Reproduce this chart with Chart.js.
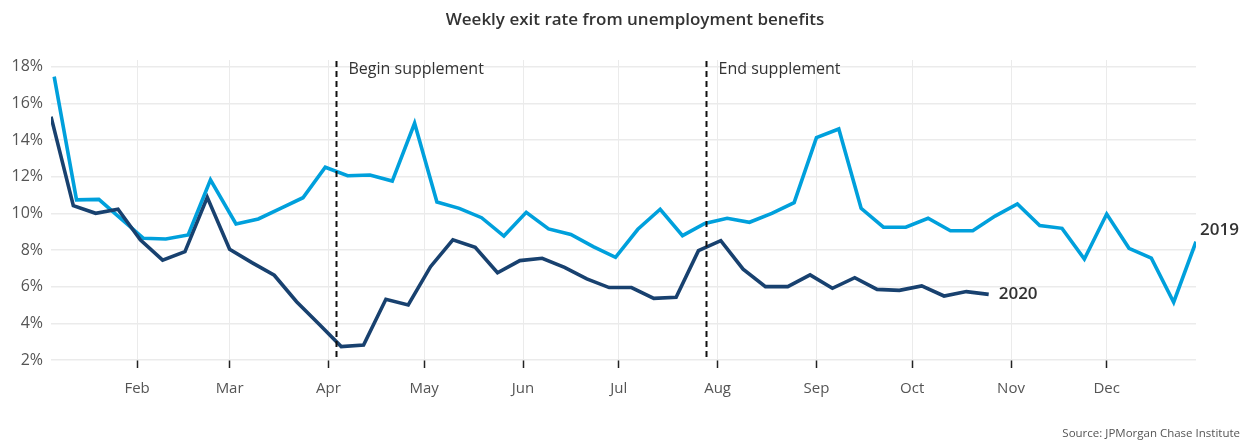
<!DOCTYPE html>
<html>
<head>
<meta charset="utf-8">
<title>Weekly exit rate from unemployment benefits</title>
<script src="https://cdn.jsdelivr.net/npm/chart.js@4.4.1/dist/chart.umd.min.js"></script>
<style>
  html, body { margin: 0; padding: 0; background: #ffffff; }
  #wrap { position: relative; width: 1247px; height: 443px; }
</style>
</head>
<body>
<div id="wrap"><canvas id="chart" width="1247" height="443"></canvas></div>
<script>
// ---- data -------------------------------------------------------------
const chartTitle = 'Weekly exit rate from unemployment benefits';
const sourceNote = 'Source: JPMorgan Chase Institute';

const monthLabels = ['Feb', 'Mar', 'Apr', 'May', 'Jun', 'Jul', 'Aug', 'Sep', 'Oct', 'Nov', 'Dec'];
const yTickValues = [2, 4, 6, 8, 10, 12, 14, 16, 18];

const seriesNames = ['2020', '2019'];
const firstWeek2020 = '2020-01-05';   // weeks end on Sundays
const firstWeek2019 = '2019-01-06';

// weekly exit rate, percent
const rate2020 = [
  15.27, 10.42, 10.00, 10.22, 8.55, 7.45, 7.91, 10.87, 8.04, 7.31,
  6.62, 5.18, 3.96, 2.73, 2.82, 5.31, 5.00, 7.09, 8.55, 8.15,
  6.76, 7.42, 7.55, 7.05, 6.42, 5.95, 5.95, 5.36, 5.42, 7.96,
  8.51, 6.95, 6.00, 6.00, 6.64, 5.91, 6.49, 5.85, 5.80, 6.04,
  5.49, 5.73, 5.58
];
const rate2019 = [
  17.45, 10.73, 10.76, 9.70, 8.64, 8.60, 8.82, 11.82, 9.42, 9.69,
  10.27, 10.85, 12.51, 12.05, 12.09, 11.76, 14.91, 10.62, 10.27, 9.76,
  8.76, 10.05, 9.15, 8.85, 8.18, 7.60, 9.13, 10.22, 8.78, 9.45,
  9.73, 9.51, 10.00, 10.58, 14.13, 14.60, 10.27, 9.24, 9.24, 9.73,
  9.05, 9.05, 9.85, 10.51, 9.33, 9.18, 7.51, 9.96, 8.09, 7.55,
  5.15, 8.45
];

const policyEvents = [
  { label: 'Begin supplement', date: '2020-04-03T12:00:00Z' },
  { label: 'End supplement',   date: '2020-07-28T12:00:00Z' }
];

// ---- calendar helpers (x axis = day of the 2020 calendar year) ---------
const DAY = 864e5;
const JAN1 = Date.UTC(2020, 0, 1);
function calendarDay(d) {
  // place any date on the 2020 calendar by its month and day
  return (Date.UTC(2020, d.getUTCMonth(), d.getUTCDate(), d.getUTCHours()) - JAN1) / DAY;
}
function weeklyPoints(start, values) {
  const t0 = Date.parse(start + 'T00:00:00Z');
  return values.map((v, i) => ({ x: calendarDay(new Date(t0 + i * 7 * DAY)), y: v }));
}
const monthStarts = monthLabels.map((_, i) => (Date.UTC(2020, i + 1, 1) - JAN1) / DAY);

const points2020 = weeklyPoints(firstWeek2020, rate2020);
const points2019 = weeklyPoints(firstWeek2019, rate2019);
const xMin = points2020[0].x;
const xMax = points2019[points2019.length - 1].x;

// ---- styling ----------------------------------------------------------
const FONT = '"Open Sans", "Noto Sans", "DejaVu Sans", sans-serif';
const DARK = '#18416f';
const LIGHT = '#00a0dc';
const GRID = '#ebebeb';
const TEXT = '#333333';
const AXIS_TEXT = '#555555';

// text layer: title, source, policy markers and end-of-line labels
const overlay = {
  id: 'overlay',
  afterDatasetsDraw(chart) {
    const { ctx, chartArea, scales } = chart;
    ctx.save();

    // policy event markers
    policyEvents.forEach(ev => {
      const x = Math.round(scales.x.getPixelForValue(calendarDay(new Date(ev.date)))) + 0.5;
      ctx.beginPath();
      ctx.setLineDash([6, 4]);
      ctx.lineWidth = 2;
      ctx.strokeStyle = '#111111';
      ctx.moveTo(x, chartArea.top + 1);
      ctx.lineTo(x, chartArea.bottom - 2);
      ctx.stroke();
      ctx.setLineDash([]);
      ctx.fillStyle = TEXT;
      ctx.font = '16px ' + FONT;
      ctx.textAlign = 'left';
      ctx.textBaseline = 'middle';
      ctx.fillText(ev.label, x + 12, chartArea.top + 9);
    });

    // end-of-line series labels
    ctx.font = '600 17px ' + FONT;
    ctx.fillStyle = TEXT;
    ctx.textBaseline = 'middle';
    ctx.textAlign = 'left';
    const m0 = chart.getDatasetMeta(0).data;
    const p0 = m0[m0.length - 1];
    ctx.fillText(seriesNames[0], p0.x + 10, p0.y);
    const m1 = chart.getDatasetMeta(1).data;
    const p1 = m1[m1.length - 1];
    ctx.fillText(seriesNames[1], p1.x + 4, p1.y - 12);

    // title
    ctx.font = '600 17px ' + FONT;
    ctx.textAlign = 'center';
    ctx.fillStyle = TEXT;
    ctx.fillText(chartTitle, 635, 20);

    // source note
    ctx.font = '11.5px ' + FONT;
    ctx.textAlign = 'right';
    ctx.fillStyle = AXIS_TEXT;
    ctx.fillText(sourceNote, 1240, 434);

    ctx.restore();
  }
};

new Chart(document.getElementById('chart'), {
  type: 'line',
  data: {
    datasets: [
      {
        label: seriesNames[0],
        data: points2020,
        borderColor: DARK,
        borderWidth: 3.6,
        pointRadius: 0,
        tension: 0,
        order: 0
      },
      {
        label: seriesNames[1],
        data: points2019,
        borderColor: LIGHT,
        borderWidth: 3.6,
        pointRadius: 0,
        tension: 0,
        order: 1
      }
    ]
  },
  options: {
    responsive: false,
    animation: false,
    devicePixelRatio: 1,
    layout: { padding: { top: 60, right: 51, bottom: 0, left: 0 } },
    plugins: {
      legend: { display: false },
      title: { display: false },
      tooltip: { enabled: false }
    },
    scales: {
      x: {
        type: 'linear',
        min: xMin,
        max: xMax,
        afterBuildTicks(scale) {
          scale.ticks = monthStarts.map(v => ({ value: v }));
        },
        afterFit(scale) { scale.height = 83; },
        border: { display: false },
        grid: {
          color: GRID,
          lineWidth: 1,
          drawTicks: true,
          tickLength: 8,
          tickColor: '#222222',
          tickWidth: 1.5
        },
        ticks: {
          autoSkip: false,
          maxRotation: 0,
          padding: 12,
          color: AXIS_TEXT,
          font: { family: FONT, size: 15 },
          callback(value) {
            const i = monthStarts.indexOf(value);
            return i >= 0 ? monthLabels[i] : '';
          }
        }
      },
      y: {
        min: 2,
        max: 18.36,
        afterBuildTicks(scale) {
          scale.ticks = yTickValues.map(v => ({ value: v }));
        },
        afterFit(scale) { scale.width = 51; },
        border: { display: false },
        grid: { color: GRID, lineWidth: 1.5, drawTicks: false },
        ticks: {
          padding: 8,
          color: AXIS_TEXT,
          font: { family: FONT, size: 16 },
          callback(value) { return value + '%'; }
        }
      }
    }
  },
  plugins: [overlay]
});
</script>
</body>
</html>
